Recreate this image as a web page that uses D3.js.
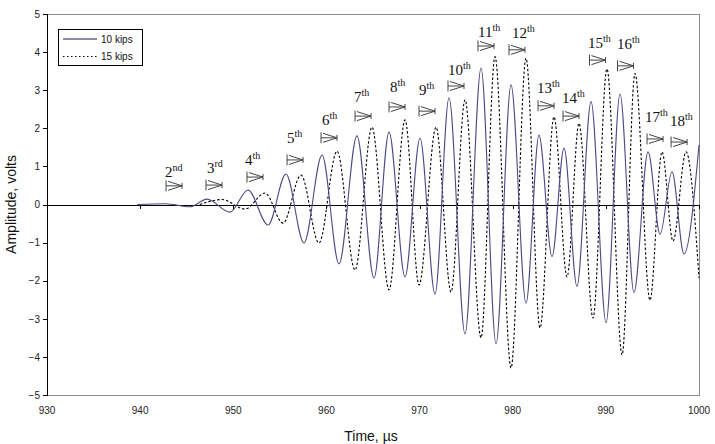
<!DOCTYPE html>
<html><head><meta charset="utf-8">
<script src="https://cdn.jsdelivr.net/npm/d3@7"></script>
<style>body{margin:0;background:#fff}svg{display:block}</style>
</head><body>
<svg id="c" width="715" height="444"></svg>
<script>
// ---- data ----
const xTicks = [930, 940, 950, 960, 970, 980, 990, 1000];
const yTicks = [-5, -4, -3, -2, -1, 0, 1, 2, 3, 4, 5];
const seriesNames = ["10 kips", "15 kips"];
// 10 kips: [time µs, amplitude V] at the extremes of the trace
const kips10 = [
  [939.7, 0], [942.7, 0.02], [945.35, -0.06], [947.18, 0.14], [949.65, -0.20],
  [951.58, 0.38], [953.73, -0.54], [955.66, 0.80], [957.59, -1.01], [959.53, 1.30],
  [961.35, -1.56], [963.28, 1.80], [965.11, -1.93], [966.72, 1.90], [968.44, -1.90],
  [970.05, 1.74], [971.66, -2.35], [973.16, 2.80], [974.88, -3.40], [976.60, 3.58],
  [978.21, -3.66], [979.82, 3.14], [981.43, -2.59], [982.82, 1.82], [984.22, -1.37],
  [985.51, 1.48], [986.90, -2.15], [988.41, 2.70], [990.02, -3.10], [991.52, 2.90],
  [993.02, -2.31], [994.53, 1.38], [995.82, -0.78], [997.10, 0.86], [998.39, -1.30],
  [1000.0, 1.56]
];
// 15 kips
const kips15 = [
  [946.4, 0], [948.79, 0.13], [951.26, -0.12], [953.41, 0.30], [955.34, -0.49],
  [957.27, 0.77], [959.20, -1.01], [961.14, 1.40], [963.07, -1.72], [964.89, 2.03],
  [966.72, -2.24], [968.44, 2.22], [969.94, -2.11], [971.77, 2.03], [973.38, -2.30],
  [974.88, 2.75], [976.60, -3.50], [978.10, 3.88], [979.82, -4.29], [981.43, 3.84],
  [982.93, -3.24], [984.43, 2.30], [985.83, -1.90], [987.12, 2.13], [988.62, -2.98],
  [990.12, 3.56], [991.74, -3.95], [993.13, 3.44], [994.74, -2.51], [996.03, 1.38],
  [997.21, -0.96], [998.61, 1.38], [1000.0, -1.93]
];
// peak labels: number, suffix, text anchor [t, A], marker centre [t, A]
const peakNums = [2,3,4,5,6,7,8,9,10,11,12,13,14,15,16,17,18];
const peakSuffix = ["nd","rd","th","th","th","th","th","th","th","th","th","th","th","th","th","th","th"];
const labelPos = [
  [942.67,0.72],[947.18,0.83],[951.26,1.04],[955.77,1.61],[959.53,2.09],[962.96,2.69],
  [966.83,2.95],[969.94,2.87],[973.05,3.40],[976.27,4.40],[979.92,4.37],[982.61,2.93],
  [985.29,2.66],[988.09,4.11],[991.20,4.08],[994.20,2.17],[996.89,2.06]
];
const markerPos = [
  [943.64,0.49],[947.93,0.51],[952.33,0.72],[956.63,1.17],[960.28,1.75],[963.93,2.32],
  [967.58,2.56],[970.80,2.45],[973.91,3.11],[977.13,4.16],[980.46,4.06],[983.58,2.59],
  [986.26,2.32],[989.10,3.79],[992.11,3.64],[995.28,1.72],[997.86,1.64]
];

// ---- drawing ----
const svg = d3.select("#c");
const L = 47, R = 699, T = 14, B = 395;
const x = d3.scaleLinear().domain([930, 1000]).range([L, R]);
const y = d3.scaleLinear().domain([-5, 5]).range([B, T]);
const sans = "Liberation Sans, Arial, sans-serif";
const serif = "Liberation Serif, Times New Roman, serif";

svg.append("rect").attr("width", 715).attr("height", 444).attr("fill", "#fff");
// plot frame
svg.append("rect").attr("x", L).attr("y", T).attr("width", R - L).attr("height", B - T)
  .attr("fill", "none").attr("stroke", "#8a8a8a").attr("stroke-width", 1)
  .attr("shape-rendering", "crispEdges");

// y axis
const yAxis = svg.append("g").attr("transform", `translate(${L},0)`)
  .call(d3.axisLeft(y).tickValues(yTicks).tickSize(4).tickPadding(3).tickFormat(d3.format("d")));
yAxis.select(".domain").attr("stroke", "#000").attr("shape-rendering", "crispEdges");
yAxis.selectAll(".tick line").attr("stroke", "#000").attr("shape-rendering", "crispEdges");
yAxis.selectAll("text").attr("font-family", sans).attr("font-size", 10).attr("fill", "#222");

// x axis on zero line
const xAxis = svg.append("g").attr("transform", `translate(0,${y(0)})`)
  .call(d3.axisBottom(x).tickValues(xTicks).tickSize(4).tickSizeOuter(0).tickFormat(""));
xAxis.select(".domain").attr("stroke", "#000").attr("shape-rendering", "crispEdges");
xAxis.selectAll(".tick line").attr("stroke", "#000").attr("shape-rendering", "crispEdges");
// x tick labels at bottom
svg.append("g").selectAll("text").data(xTicks).join("text")
  .attr("x", d => x(d)).attr("y", B + 19).attr("text-anchor", "middle")
  .attr("font-family", sans).attr("font-size", 10).attr("fill", "#222").text(d => d);

// axis titles
svg.append("text").attr("x", 371).attr("y", 441).attr("text-anchor", "middle")
  .attr("font-family", sans).attr("font-size", 14).attr("fill", "#111").text("Time, µs");
svg.append("text").attr("transform", `translate(16,${y(0)}) rotate(-90)`).attr("text-anchor", "middle")
  .attr("font-family", sans).attr("font-size", 14).attr("fill", "#111").text("Amplitude, volts");

// lines
const line = d3.line().x(d => x(d[0])).y(d => y(d[1])).curve(d3.curveMonotoneX);
svg.append("clipPath").attr("id", "clip").append("rect")
  .attr("x", L).attr("y", T).attr("width", R - L + 1).attr("height", B - T);
svg.append("path").datum(kips15).attr("d", line).attr("fill", "none")
  .attr("stroke", "#000").attr("stroke-width", 1.1).attr("stroke-dasharray", "2.5,2")
  .attr("clip-path", "url(#clip)");
svg.append("path").datum(kips10).attr("d", line).attr("fill", "none")
  .attr("stroke", "#4a4a88").attr("stroke-width", 1.1).attr("clip-path", "url(#clip)");

// peak labels
const lab = svg.append("g");
peakNums.forEach((n, i) => {
  const t = lab.append("text").attr("x", x(labelPos[i][0])).attr("y", y(labelPos[i][1]))
    .attr("font-family", serif).attr("font-size", 15).attr("fill", "#111");
  t.append("tspan").text(n);
  t.append("tspan").attr("font-size", 10).attr("dy", -6).text(peakSuffix[i]);
  // marker |>|
  const cx = x(markerPos[i][0]), cy = y(markerPos[i][1]);
  const w = 16, h = 11, l = cx - w / 2, r = cx + w / 2;
  const m = lab.append("g").attr("stroke", "#444").attr("stroke-width", 1).attr("fill", "none");
  m.append("line").attr("x1", l).attr("x2", l).attr("y1", cy - h / 2).attr("y2", cy + h / 2);
  m.append("line").attr("x1", l).attr("x2", r).attr("y1", cy).attr("y2", cy);
  m.append("path").attr("d", `M${l + 2},${cy - h / 2 + 1}L${r},${cy}L${l + 2},${cy + h / 2 - 1}`);
  m.append("line").attr("x1", r).attr("x2", r).attr("y1", cy - 3).attr("y2", cy + 3);
});

// legend
const lg = svg.append("g");
lg.append("rect").attr("x", 58.5).attr("y", 29.5).attr("width", 84).attr("height", 36)
  .attr("fill", "#fff").attr("stroke", "#000").attr("stroke-width", 1);
[0, 1].forEach(i => {
  const yy = 39 + i * 17.5;
  lg.append("line").attr("x1", 63).attr("x2", 97).attr("y1", yy).attr("y2", yy)
    .attr("stroke", i === 0 ? "#1a1a50" : "#000").attr("stroke-width", 1)
    .attr("stroke-dasharray", i === 0 ? null : "1.5,2.5");
  lg.append("text").attr("x", 101).attr("y", yy + 3.5).attr("font-family", sans)
    .attr("font-size", 10).attr("fill", "#111").text(seriesNames[i]);
});
</script>
</body></html>
